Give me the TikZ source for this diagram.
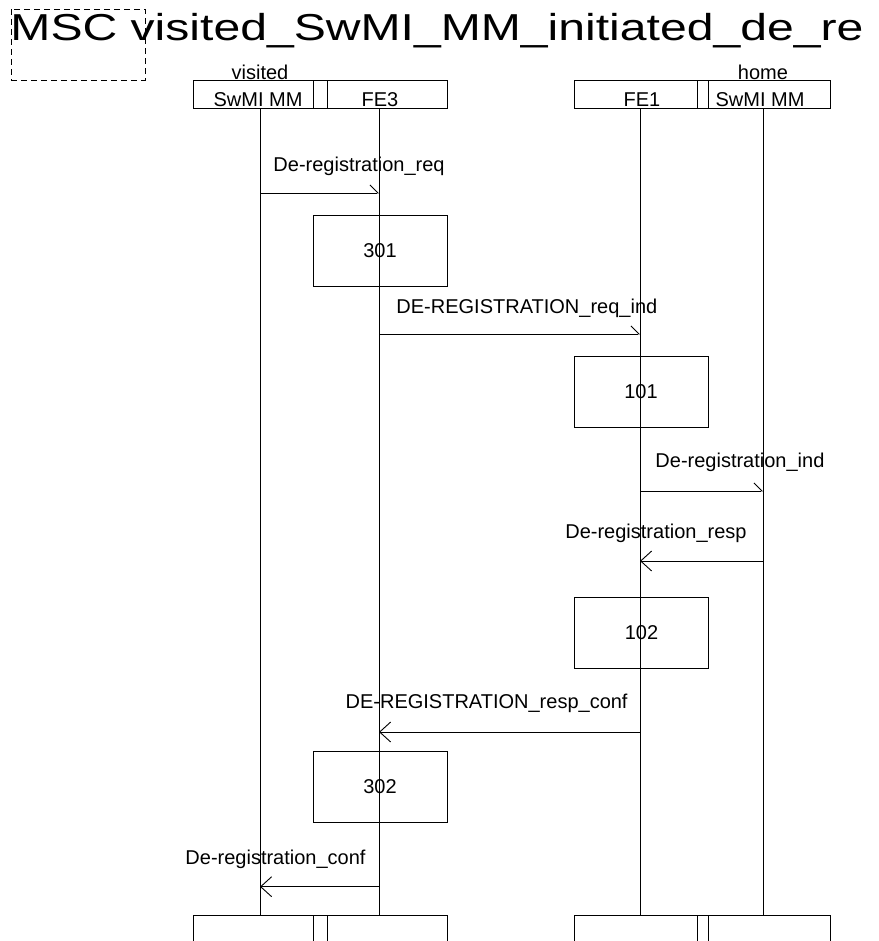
\documentclass[tikz,border=0pt]{standalone}
\usepackage{fontspec}
\setmainfont{Liberation Sans}
\usepackage{graphicx}
\usetikzlibrary{arrows.meta}

\begin{document}
\begin{tikzpicture}[
    x=1pt, y=-1pt,
    line width=0.9pt,
    lbl/.style={font=\fontsize{20}{24}\selectfont, inner sep=0pt},
    msgtxt/.style={lbl},
    act/.style={draw, lbl, minimum width=134pt, minimum height=71pt},   % action box
    fwd/.style={-{Straight Barb[left,length=8pt,width=16pt]}},  % only half a head, as drawn
    bwd/.style={-{Straight Barb[length=11pt,width=20pt]}},
  ]
  \clip (0,0) rectangle (878,941);
  \def\xA{260}   % visited SwMI MM
  \def\xB{379}   % FE3
  \def\xC{640}   % FE1
  \def\xD{763}   % home SwMI MM
  \def\yTop{108.7}
  \def\yBot{915.3}

  % ---------- title ----------
  \node[anchor=base west, inner sep=0pt, font=\fontsize{37.5}{40}\selectfont] (title)
       at (10,40.7) {\scalebox{1.283}[1]{MSC visited\_SwMI\_MM\_initiated\_de\_re}};
  \draw[dash pattern=on 6pt off 4pt] (11.7,9.3) rectangle (145,80);

  % ---------- instance heads and ends ----------
  \foreach \y in {80,\yBot}
    {\draw (193,\y) rectangle (447,\y+28.7);
     \draw (313,\y) rectangle (327,\y+28.7);
     \draw (574,\y) rectangle (830,\y+28.7);
     \draw (697,\y) rectangle (708,\y+28.7);}
  \node[lbl, anchor=base] (hA) at (258,106.5) {SwMI MM};
  \node[lbl, anchor=base] (hB) at (380,106.5) {FE3};
  \node[lbl, anchor=base] (hC) at (642,106.5) {FE1};
  \node[lbl, anchor=base] (hD) at (760,106.5) {SwMI MM};
  \node[lbl, anchor=base] (sysV) at (260,80) {visited};
  \node[lbl, anchor=base] (sysH) at (763,80) {home};

  % ---------- lifelines ----------
  \foreach \x in {\xA,\xB,\xC,\xD}
    \draw (\x,\yTop) -- (\x,\yBot);

  % ---------- messages ----------
  \coordinate (m1s) at (\xA,193);    \coordinate (m1e) at (\xB,193);
  \coordinate (m2s) at (\xB,334);    \coordinate (m2e) at (\xC,334);
  \coordinate (m3s) at (\xC,491);    \coordinate (m3e) at (\xD,491);
  \coordinate (m4s) at (\xD,561);    \coordinate (m4e) at (\xC,561);
  \coordinate (m5s) at (\xC,732);    \coordinate (m5e) at (\xB,732);
  \coordinate (m6s) at (\xB,886.7);  \coordinate (m6e) at (\xA,886.7);

  \draw[fwd] (m1s) -- (m1e);
  \draw[fwd] (m2s) -- (m2e);
  \draw[fwd] (m3s) -- (m3e);
  \draw[bwd] (m4s) -- (m4e);
  \draw[bwd] (m5s) -- (m5e);
  \draw[bwd] (m6s) -- (m6e);

  \node[msgtxt, anchor=base west] (t1) at ([shift={(13,-21)}]m1s) {De-registration\_req};
  \node[msgtxt, anchor=base west] (t2) at ([shift={(17,-21)}]m2s) {DE-REGISTRATION\_req\_ind};
  \node[msgtxt, anchor=base west] (t3) at ([shift={(15,-24)}]m3s) {De-registration\_ind};
  \node[msgtxt, anchor=base east] (t4) at ([shift={(-16,-23)}]m4s) {De-registration\_resp};
  \node[msgtxt, anchor=base east] (t5) at ([shift={(-12,-24)}]m5s) {DE-REGISTRATION\_resp\_conf};
  \node[msgtxt, anchor=base east] (t6) at ([shift={(-13,-22)}]m6s) {De-registration\_conf};

  % ---------- actions ----------
  \node[act] (a301) at (380,250.5) {301};
  \node[act] (a101) at (641,391.5) {101};
  \node[act] (a102) at (641.5,632.5) {102};
  \node[act] (a302) at (380,787) {302};
\end{tikzpicture}
\end{document}
